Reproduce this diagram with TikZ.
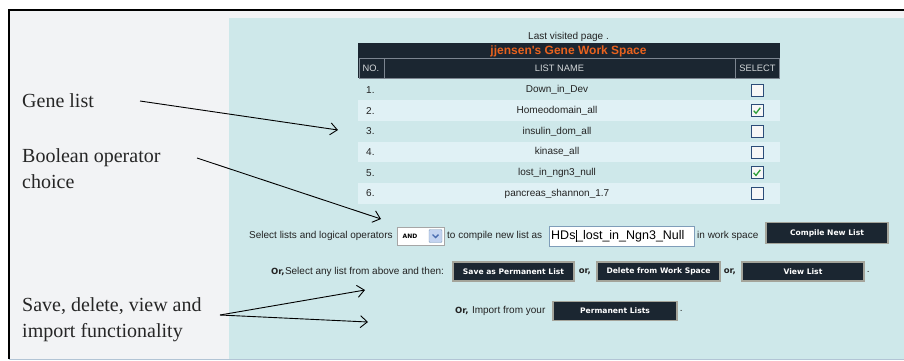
\documentclass[tikz,border=0pt]{standalone}
\usepackage{fontspec}
\setmainfont{Liberation Serif}
\newfontfamily\uifont{Liberation Sans}
\newfontfamily\btnfont{DejaVu Sans}
\usetikzlibrary{arrows.meta}
\usetikzlibrary{positioning}
\definecolor{framegray}{HTML}{F2F3F5}
\definecolor{pagebg}{HTML}{CEE8EA}
\definecolor{rowlight}{HTML}{E0F1F5}
\definecolor{headdark}{HTML}{1B2631}
\definecolor{headline}{HTML}{7C8590}
\definecolor{headtext}{HTML}{D4D8DA}
\definecolor{titleorange}{HTML}{E8621E}
\definecolor{boxblue}{HTML}{2C4C78}
\definecolor{tickgreen}{HTML}{2E9E3A}
\definecolor{btnedge}{HTML}{A4A49A}
\definecolor{fieldedge}{HTML}{7F9DB9}
\definecolor{ddblue}{HTML}{C3D3F0}
\definecolor{ddarrow}{HTML}{4A6CB0}
\definecolor{uigray}{HTML}{222222}
\tikzset {
  % plain web page text
  uitext/.style = {
    font = \uifont\fontsize{10}{12}\selectfont,
    text = uigray,
    inner sep = 0,
    anchor = west
  },
  % the bold "Or," bits
  ortext/.style = {
    uitext,
    font = \btnfont\bfseries\fontsize{8.5}{10}\selectfont
  },
  % table header cells
  headcell/.style = {
    font = \uifont\fontsize{9.3}{11}\selectfont,
    text = headtext,
    inner sep = 0
  },
  % dark push button
  btn/.style = {
    draw = btnedge,
    line width = 1.2pt,
    fill = headdark,
    text = white,
    font = \btnfont\bfseries\fontsize{7.6}{9}\selectfont,
    minimum height = 19pt,
    inner sep = 0
  },
  % select checkbox of a row
  chk/.style = {
    draw = boxblue,
    fill = white!94!gray,
    line width = .8pt,
    minimum size = 12pt,
    inner sep = 0
  },
  tickmark/.style = {
    draw = tickgreen,
    line width = 1.3pt
  },
  % annotation on the left
  note/.style = {
    font = \fontsize{20}{26}\selectfont,
    text = black!85,
    align = left,
    anchor = north west,
    inner sep = 0
  },
  callout/.style = {
    draw = black,
    line width = .9pt,
    -{Straight Barb[length=7pt,width=12pt]}
  }
}

\begin{document}
\begin{tikzpicture}[x=1pt, y=-1pt]
    \useasboundingbox (0,0) rectangle (904,360);

    % frame and page background
    \fill[framegray] (9,10) rectangle (910,359);
    \fill[pagebg] (229,18) rectangle (910,358.5);
    \draw[black, line width=1.2pt] (9,359) -- (9,10) -- (910,10);
    \draw[fieldedge!60, line width=1pt] (9,359) -- (910,359);

    \node[uitext, anchor=center] (visited) at (568.5,37) {Last visited page .};

    % table header
    \fill[headdark] (358,43) rectangle (780,78);
    \draw[headline, line width=.8pt] (359,58) rectangle (779,78)
      (384,58) -- (384,78)
      (735,58) -- (735,78);
    \node[font=\uifont\bfseries\fontsize{12}{14}\selectfont, text=titleorange,
      inner sep=0] (title) at (568.5,51) {jjensen's Gene Work Space};
    \node[headcell] (hno) at (371,68.5) {NO.};
    \node[headcell] (hname) at (559.5,68.5) {LIST NAME};
    \node[headcell] (hsel) at (757.5,68.5) {SELECT};

    % table rows
    \foreach \i/\lname/\tick in {1/Down\_in\_Dev/0, 2/Homeodomain\_all/1,
        3/insulin\_dom\_all/0, 4/kinase\_all/0, 5/lost\_in\_ngn3\_null/1,
        6/pancreas\_shannon\_1.7/0} {
      \pgfmathsetmacro\ry{90+20.7*(\i-1)}
      \ifodd\i\else
        \fill[rowlight] (358,{\ry-10.3}) rectangle (780,{\ry+10.3});
      \fi
      \node[uitext] (num\i) at (366,\ry) {\i.};
      \node[uitext, anchor=center] (lname\i) at (557,\ry) {\lname};
      \node[chk] (cb\i) at (757,\ry) {};
      \ifnum\tick=1
        \draw[tickmark] ([shift={(-3.3,0)}]cb\i.center) -- ++(2.3,2.6) -- ++(4.3,-5.6);
      \fi
    }

    % compile row
    \node[uitext] (seltxt) at (249,236) {Select lists and logical operators};
    \node[draw=gray!70, fill=white, minimum width=47pt, minimum height=18pt,
      inner sep=0] (andbox) at (420.5,236) {};
    \node[font=\btnfont\bfseries\fontsize{6}{7}\selectfont, inner sep=0]
      (andtxt) at (410,236) {AND};
    \node[draw=fieldedge, fill=ddblue, minimum size=13pt, inner sep=0,
      rounded corners=1pt] (ddbtn) at (435.5,236) {};
    \draw[ddarrow, line width=1.4pt] ([shift={(-3,-1.5)}]ddbtn.center)
      -- ++(3,3) -- ++(3,-3);
    \node[uitext] (comptxt) at (447,236) {to compile new list as};
    \node[draw=fieldedge, fill=white, minimum width=145pt, minimum height=20pt,
      inner sep=0] (namefield) at (621.5,236) {};
    \node[uitext, font=\uifont\fontsize{12.5}{14}\selectfont, text=black]
      (newname) at (551,236)
      {HDs\kern.3pt\rule[-2pt]{.6pt}{12pt}\kern-.3pt\_lost\_in\_Ngn3\_Null};
    \node[uitext] (wstxt) at (697,236) {in work space};
    \node[btn, minimum width=122pt, minimum height=21pt] (compile) at (827,233)
      {Compile New List};

    % save / delete / view row
    \node[ortext] (orsel) at (271,271.5) {Or,};
    \node[uitext] (anytxt) [right=0pt of orsel] {Select any list from above and then:};
    \node[btn, minimum width=121pt] (save) at (513.5,271.5) {Save as Permanent List};
    \node[ortext] (or1) [right=4pt of save] {or,};
    \node[btn, minimum width=123pt] (delete) at (658.5,271.5) {Delete from Work Space};
    \node[ortext] (or2) [right=3pt of delete] {or,};
    \node[btn, minimum width=122pt] (view) at (803,271.5) {View List};
    \node[uitext] (dot1) [right=2pt of view] {.};

    % import row
    \node[ortext] (orimp) at (455,311) {Or,};
    \node[uitext] (imptxt) [right=3pt of orimp] {Import from your};
    \node[btn, minimum width=124pt] (perm) at (615,311) {Permanent Lists};
    \node[uitext] (dot2) [right=2pt of perm] {.};

    % notes on the left
    \node[note] (genelbl) at (22,93.3) {Gene list};
    \node[note] (boollbl) at (22,148.3) {Boolean operator\\choice};
    \node[note] (funclbl) at (22,297.3) {Save, delete, view and\\import functionality};

    \coordinate (genefrom) at (140,101);
    \coordinate (genetip) at (338,130);
    \coordinate (boolfrom) at (197,158);
    \coordinate (booltip) at (381,219);
    \coordinate (funcfrom) at (220,315);
    \coordinate (savetip) at (365,290);
    \coordinate (importtip) at (368,322);

    \draw[callout] (genefrom) -- (genetip);
    \draw[callout] (boolfrom) -- (booltip);
    \draw[callout] (funcfrom) -- (savetip);
    \draw[callout] (funcfrom) -- (importtip);
\end{tikzpicture}
\end{document}
